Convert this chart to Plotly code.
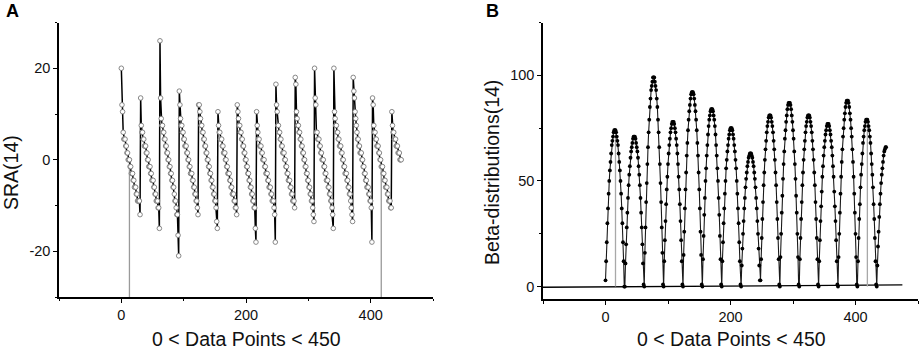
import plotly.graph_objects as go

# ---------------- Panel A: SRA(14), one list per sawtooth segment ----------------
SRA_01 = [20, 12, 10.5, 6, 4.5, 4.5, 4.5, 3, 3, 1.5, 1.5, 0, 0, 0, -1.5, -1.5, -3, -3, -3, -4.5, -4.5, -6, -6, -6, -7.5, -7.5, -9, -9, -9, -9, -12]
SRA_02 = [13.5, 7.5, 6, 6, 4.5, 4.5, 3, 3, 3, 1.5, 1.5, 0, 0, -1.5, -1.5, -1.5, -3, -3, -4.5, -4.5, -4.5, -6, -6, -7.5, -7.5, -9, -9, -9, -10.5, -10.5, -15]
SRA_03 = [26, 13.5, 9, 7.5, 7.5, 6, 6, 4.5, 4.5, 3, 3, 1.5, 1.5, 0, 0, -1.5, -1.5, -3, -3, -4.5, -4.5, -6, -6, -7.5, -9, -9, -10.5, -12, -12, -16.5, -21]
SRA_04 = [15, 12, 9, 7.5, 7.5, 6, 6, 4.5, 4.5, 3, 3, 3, 1.5, 1.5, 0, 0, -1.5, -1.5, -3, -3, -3, -4.5, -4.5, -6, -6, -7.5, -7.5, -9, -9, -10.5, -12]
SRA_05 = [12, 12, 10.5, 9, 7.5, 7.5, 6, 6, 4.5, 4.5, 3, 3, 1.5, 1.5, 0, 0, -1.5, -1.5, -3, -3, -4.5, -4.5, -6, -6, -7.5, -7.5, -9, -9, -10.5, -13.5, -15]
SRA_06 = [10.5, 7.5, 6, 6, 4.5, 4.5, 4.5, 3, 3, 1.5, 1.5, 1.5, 0, 0, -1.5, -1.5, -3, -3, -3, -4.5, -4.5, -6, -6, -7.5, -7.5, -7.5, -9, -9, -10.5, -10.5, -12]
SRA_07 = [12, 10.5, 9, 7.5, 7.5, 6, 6, 4.5, 4.5, 3, 3, 1.5, 1.5, 0, 0, -1.5, -1.5, -3, -3, -4.5, -4.5, -6, -6, -7.5, -7.5, -9, -9, -10.5, -10.5, -15, -18]
SRA_08 = [10.5, 7.5, 6, 4.5, 4.5, 3, 3, 3, 1.5, 1.5, 0, 0, 0, -1.5, -1.5, -3, -3, -3, -4.5, -4.5, -6, -6, -6, -7.5, -7.5, -9, -9, -9, -10.5, -12, -18]
SRA_09 = [16.5, 12, 10.5, 7.5, 7.5, 6, 6, 4.5, 4.5, 3, 3, 1.5, 1.5, 1.5, 0, 0, -1.5, -1.5, -3, -3, -4.5, -4.5, -4.5, -6, -6, -7.5, -7.5, -9, -9, -9, -10.5]
SRA_10 = [18, 16.5, 10.5, 9, 7.5, 7.5, 6, 6, 4.5, 4.5, 3, 3, 1.5, 1.5, 0, 0, -1.5, -1.5, -3, -3, -4.5, -4.5, -6, -6, -7.5, -7.5, -9, -9, -10.5, -12, -13.5]
SRA_11 = [20, 13.5, 12, 6, 6, 4.5, 4.5, 4.5, 3, 3, 1.5, 1.5, 0, 0, 0, -1.5, -1.5, -3, -3, -4.5, -4.5, -4.5, -6, -6, -7.5, -7.5, -9, -9, -10.5, -12, -15]
SRA_12 = [20, 10.5, 9, 7.5, 7.5, 6, 6, 4.5, 4.5, 3, 3, 3, 1.5, 1.5, 0, 0, -1.5, -1.5, -3, -3, -3, -4.5, -4.5, -6, -6, -7.5, -7.5, -9, -10.5, -12, -13.5]
SRA_13 = [18, 15, 13.5, 10.5, 9, 7.5, 6, 4.5, 4.5, 3, 3, 1.5, 1.5, 1.5, 0, 0, -1.5, -1.5, -3, -3, -4.5, -4.5, -6, -6, -6, -7.5, -7.5, -9, -9, -10.5, -18]
SRA_14 = [13.5, 12, 7.5, 6, 6, 4.5, 4.5, 3, 3, 3, 1.5, 1.5, 0, 0, -1.5, -1.5, -1.5, -3, -3, -4.5, -4.5, -6, -6, -6, -7.5, -7.5, -9, -9, -9, -10.5, -10.5]
SRA_15 = [10.5, 7.5, 6, 6, 4.5, 4.5, 4.5, 3, 3, 3, 1.5, 1.5, 1.5, 0, 0, 0]

# ---------------- Panel B: Beta-distributions(14), one list per arch ----------------
BETA_01 = [3, 12, 21, 30, 37, 44, 50, 55, 59, 63, 67, 69, 71, 73, 74, 74, 74, 73, 71, 69, 67, 63, 59, 55, 50, 44, 37, 30, 21, 12, 0]
BETA_02 = [0, 11, 20, 28, 35, 42, 48, 53, 57, 61, 64, 66, 68, 70, 71, 71, 71, 70, 68, 66, 64, 61, 57, 53, 48, 42, 35, 28, 20, 11, 1]
BETA_03 = [0, 16, 28, 40, 49, 58, 66, 73, 79, 85, 89, 93, 95, 97, 99, 99, 99, 97, 95, 93, 89, 85, 79, 73, 66, 58, 49, 40, 28, 16, 1]
BETA_04 = [0, 12, 22, 31, 39, 46, 52, 58, 63, 67, 70, 73, 75, 77, 78, 78, 78, 77, 75, 73, 70, 67, 63, 58, 52, 46, 39, 31, 22, 12, 1]
BETA_05 = [0, 15, 26, 37, 46, 54, 62, 68, 74, 79, 83, 86, 89, 91, 92, 92, 92, 91, 89, 86, 83, 79, 74, 68, 62, 54, 46, 37, 26, 15, 1]
BETA_06 = [0, 13, 24, 34, 42, 50, 56, 62, 67, 72, 76, 79, 81, 83, 84, 84, 84, 83, 81, 79, 76, 72, 67, 62, 56, 50, 42, 34, 24, 13, 1]
BETA_07 = [0, 12, 21, 30, 37, 44, 50, 56, 60, 64, 67, 70, 72, 74, 75, 75, 75, 74, 72, 70, 67, 64, 60, 56, 50, 44, 37, 30, 21, 12, 1]
BETA_08 = [0, 10, 18, 25, 31, 37, 42, 47, 51, 54, 57, 59, 61, 62, 63, 63, 63, 62, 61, 59, 57, 54, 51, 47, 42, 37, 31, 25, 18, 10, 3]
BETA_09 = [3, 13, 23, 32, 40, 48, 54, 60, 65, 69, 73, 76, 78, 80, 81, 81, 81, 80, 78, 76, 73, 69, 65, 60, 54, 48, 40, 32, 23, 13, 1]
BETA_10 = [0, 14, 25, 35, 43, 51, 58, 64, 70, 74, 78, 81, 84, 86, 87, 87, 87, 86, 84, 81, 78, 74, 70, 64, 58, 51, 43, 35, 25, 14, 1]
BETA_11 = [0, 13, 23, 32, 40, 48, 54, 60, 65, 69, 73, 76, 78, 80, 81, 81, 81, 80, 78, 76, 73, 69, 65, 60, 54, 48, 40, 32, 23, 13, 1]
BETA_12 = [0, 12, 22, 31, 38, 45, 52, 57, 62, 66, 69, 72, 74, 76, 77, 77, 77, 76, 74, 72, 69, 66, 62, 57, 52, 45, 38, 31, 22, 12, 1]
BETA_13 = [0, 14, 25, 35, 44, 52, 59, 65, 71, 75, 79, 82, 85, 87, 88, 88, 88, 87, 85, 82, 79, 75, 71, 65, 59, 52, 44, 35, 25, 14, 1]
BETA_14 = [0, 12, 23, 32, 39, 47, 53, 58, 63, 68, 71, 74, 76, 78, 79, 79, 79, 78, 76, 74, 71, 68, 63, 58, 53, 47, 39, 32, 23, 12, 1]
BETA_15 = [0, 10, 19, 26, 33, 39, 44, 49, 53, 56, 59, 62, 64, 65, 66, 66]

# grey marker lines (x position, top value, bottom value)
A_MARK_X = [13, 417]
A_MARK_Y = [0, -30]
B_MARK_X = [16, 419]
B_MARK_TOP = [73, 77]
# baseline in panel B (x ends, y ends)
B_BASE_X = [-100, 475]
B_BASE_Y = [-0.3, 0.8]

X_TICKS = [0, 200, 400]
X_TICK_TEXT = ["0", "200", "400"]
A_Y_TICKS = [-20, 0, 20]
A_Y_TICK_TEXT = ["-20", "0", "20"]
B_Y_TICKS = [0, 50, 100]
B_Y_TICK_TEXT = ["0", "50", "100"]

sra = (SRA_01 + SRA_02 + SRA_03 + SRA_04 + SRA_05 + SRA_06 + SRA_07 + SRA_08
       + SRA_09 + SRA_10 + SRA_11 + SRA_12 + SRA_13 + SRA_14 + SRA_15)
beta = (BETA_01 + BETA_02 + BETA_03 + BETA_04 + BETA_05 + BETA_06 + BETA_07 + BETA_08
        + BETA_09 + BETA_10 + BETA_11 + BETA_12 + BETA_13 + BETA_14 + BETA_15)
xa = list(range(len(sra)))
xb = list(range(len(beta)))

FONT = "Liberation Sans, Arial, sans-serif"
W, H = 921, 350

fig = go.Figure()

# grey lines panel A
for xm in A_MARK_X:
    fig.add_trace(go.Scatter(x=[xm, xm], y=A_MARK_Y, mode="lines",
                             line=dict(color="#9a9a9a", width=1.3),
                             xaxis="x", yaxis="y", showlegend=False, hoverinfo="skip"))
fig.add_trace(go.Scatter(x=xa, y=sra, mode="lines+markers",
                         line=dict(color="black", width=1.5),
                         marker=dict(symbol="circle", size=4.6, color="white",
                                     line=dict(color="#7a7a7a", width=0.9)),
                         xaxis="x", yaxis="y", showlegend=False))

# panel B
fig.add_trace(go.Scatter(x=B_BASE_X, y=B_BASE_Y, mode="lines",
                         line=dict(color="black", width=1.3),
                         xaxis="x2", yaxis="y2", showlegend=False, hoverinfo="skip"))
for xm, top in zip(B_MARK_X, B_MARK_TOP):
    fig.add_trace(go.Scatter(x=[xm, xm], y=[0, top], mode="lines",
                             line=dict(color="#a8a8a8", width=1.3),
                             xaxis="x2", yaxis="y2", showlegend=False, hoverinfo="skip"))
fig.add_trace(go.Scatter(x=xb, y=beta, mode="lines+markers",
                         line=dict(color="#1a1a1a", width=1.1),
                         marker=dict(symbol="circle", size=3.8, color="black"),
                         xaxis="x2", yaxis="y2", showlegend=False))

axis_common = dict(showline=True, linecolor="black", linewidth=1.5, showgrid=False,
                   zeroline=False, ticks="outside", ticklen=4, tickwidth=1.3,
                   tickcolor="black", tickfont=dict(family=FONT, size=14.5, color="#111"),
                   fixedrange=True)

fig.update_layout(
    width=W, height=H,
    margin=dict(l=0, r=0, t=0, b=0),
    paper_bgcolor="white", plot_bgcolor="white",
    xaxis=dict(axis_common, domain=[59 / W, 433 / W], range=[-100, 500],
               tickvals=X_TICKS, ticktext=X_TICK_TEXT, anchor="y",
               minor=dict(ticks="outside", ticklen=2.5, tickwidth=1.2, dtick=100, tick0=0,
                          tickcolor="black", showgrid=False)),
    yaxis=dict(axis_common, domain=[1 - 297 / H, 1 - 22.5 / H], range=[-30, 30],
               tickvals=A_Y_TICKS, ticktext=A_Y_TICK_TEXT, anchor="x",
               minor=dict(ticks="outside", ticklen=2.5, tickwidth=1.2, dtick=10, tick0=0,
                          tickcolor="black", showgrid=False)),
    xaxis2=dict(axis_common, domain=[543 / W, 918 / W], range=[-100, 500],
                tickvals=X_TICKS, ticktext=X_TICK_TEXT, anchor="y2",
                minor=dict(ticks="outside", ticklen=2.5, tickwidth=1.2, dtick=100, tick0=0,
                           tickcolor="black", showgrid=False)),
    yaxis2=dict(axis_common, domain=[1 - 299.3 / H, 1 - 22.5 / H], range=[-6, 125],
                tickvals=B_Y_TICKS, ticktext=B_Y_TICK_TEXT, anchor="x2",
                minor=dict(ticks="outside", ticklen=2.5, tickwidth=1.2, dtick=25, tick0=0,
                           tickcolor="black", showgrid=False)),
)

title_font = dict(family=FONT, size=19.5, color="#111")
ann = [
    dict(text="<b>A</b>", x=4 / W, y=1 - 11.5 / H, xanchor="left", yanchor="middle",
         font=dict(family=FONT, size=18, color="black")),
    dict(text="<b>B</b>", x=484 / W, y=1 - 11.5 / H, xanchor="left", yanchor="middle",
         font=dict(family=FONT, size=18, color="black")),
    dict(text="SRA(14)", x=10.5 / W, y=1 - 172.5 / H, textangle=-90,
         xanchor="center", yanchor="middle", font=title_font),
    dict(text="Beta-distributions(14)", x=491.5 / W, y=1 - 172.5 / H, textangle=-90,
         xanchor="center", yanchor="middle", font=title_font),
    dict(text="0 &lt; Data Points &lt; 450", x=246.5 / W, y=1 - 339 / H,
         xanchor="center", yanchor="middle", font=title_font),
    dict(text="0 &lt; Data Points &lt; 450", x=731 / W, y=1 - 339 / H,
         xanchor="center", yanchor="middle", font=title_font),
]
for a in ann:
    a.update(xref="paper", yref="paper", showarrow=False)
fig.update_layout(annotations=ann)

fig.write_html("out.html",
               config={"displayModeBar": False},
               post_script="document.body.style.margin='0';document.body.style.overflow='hidden';")
